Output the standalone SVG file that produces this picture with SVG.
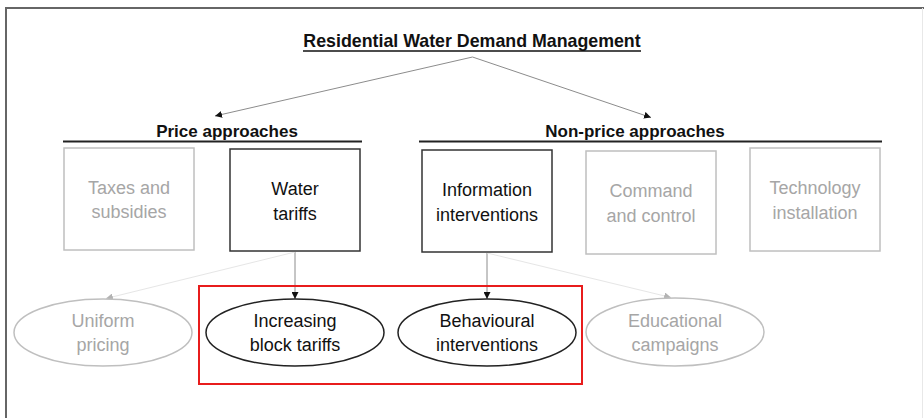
<svg xmlns="http://www.w3.org/2000/svg" width="924" height="418" viewBox="0 0 924 418">
<style>
text{font-family:"Liberation Sans",Arial,sans-serif;text-anchor:middle}
.h{font-weight:bold;font-size:17px;fill:#111}
.t{font-size:18px;fill:#111}
.g{font-size:18px;fill:#a6a6a6}
.bx{fill:#fff;stroke:#333;stroke-width:1.5}
.bg{fill:#fff;stroke:#bfbfbf;stroke-width:1.5}
.c{stroke:#8c8c8c;stroke-width:1;fill:none}
.cf{stroke:#e6e6e6;stroke-width:1;fill:none}
</style>
<defs>
<marker id="ab" viewBox="0 0 10 10" refX="10" refY="5" markerWidth="7" markerHeight="7" orient="auto" markerUnits="userSpaceOnUse"><path d="M0,0L10,5L0,10z" fill="#111"/></marker>
<marker id="ag" viewBox="0 0 10 10" refX="10" refY="5" markerWidth="7" markerHeight="7" orient="auto" markerUnits="userSpaceOnUse"><path d="M0,0L10,5L0,10z" fill="#b3b3b3"/></marker>
</defs>
<rect width="924" height="418" fill="#fff"/>
<g id="frame">
<line x1="5" y1="8" x2="924" y2="8" stroke="#666" stroke-width="2"/>
<line x1="6" y1="7" x2="6" y2="418" stroke="#666" stroke-width="2"/>
<line x1="922.5" y1="8" x2="922.5" y2="418" stroke="#e8e8e8" stroke-width="1"/>
</g>
<g id="title">
<text class="h" x="472" y="47" style="font-size:17.8px">Residential Water Demand Management</text>
<line x1="303" y1="51" x2="641" y2="51" stroke="#111" stroke-width="1.5"/>
</g>
<g id="price-heading">
<text class="h" x="227" y="137">Price approaches</text>
<line x1="63" y1="141.5" x2="362" y2="141.5" stroke="#222" stroke-width="2"/>
</g>
<g id="nonprice-heading">
<text class="h" x="635" y="137">Non-price approaches</text>
<line x1="419" y1="141.5" x2="882" y2="141.5" stroke="#222" stroke-width="2"/>
</g>
<g id="connectors">
<line class="c" x1="472.5" y1="57" x2="215" y2="116" marker-end="url(#ab)"/>
<line class="c" x1="472.5" y1="57" x2="651" y2="117.5" marker-end="url(#ab)"/>
<line class="c" x1="295" y1="252" x2="295" y2="299" marker-end="url(#ab)"/>
<line class="c" x1="487" y1="253" x2="487" y2="299" marker-end="url(#ab)"/>
<line class="cf" x1="295" y1="252" x2="106" y2="298.5" marker-end="url(#ag)"/>
<line class="cf" x1="487" y1="253" x2="671" y2="297.5" marker-end="url(#ag)"/>
</g>
<g id="taxes">
<rect class="bg" x="64" y="148" width="130" height="102"/>
<text class="g" x="129" y="194">Taxes and</text>
<text class="g" x="129" y="218">subsidies</text>
</g>
<g id="water-tariffs">
<rect class="bx" x="230" y="149" width="130" height="102"/>
<text class="t" x="295" y="195">Water</text>
<text class="t" x="295" y="220">tariffs</text>
</g>
<g id="information">
<rect class="bx" x="422" y="150" width="130" height="102"/>
<text class="t" x="487" y="196">Information</text>
<text class="t" x="487" y="221">interventions</text>
</g>
<g id="command">
<rect class="bg" x="586" y="151" width="130" height="103"/>
<text class="g" x="651" y="197">Command</text>
<text class="g" x="651" y="222">and control</text>
</g>
<g id="technology">
<rect class="bg" x="750" y="148" width="130" height="103"/>
<text class="g" x="815" y="194">Technology</text>
<text class="g" x="815" y="219">installation</text>
</g>
<g id="highlight">
<rect x="199" y="286" width="383" height="98" fill="none" stroke="#e81c1c" stroke-width="2"/>
</g>
<g id="uniform">
<ellipse cx="103" cy="332.5" rx="89" ry="33.5" fill="#fff" stroke="#bfbfbf" stroke-width="1.5"/>
<text class="g" x="103" y="327">Uniform</text>
<text class="g" x="103" y="351">pricing</text>
</g>
<g id="ibt">
<ellipse cx="295" cy="332.5" rx="89" ry="33.5" fill="#fff" stroke="#222" stroke-width="1.5"/>
<text class="t" x="295" y="327">Increasing</text>
<text class="t" x="295" y="351">block tariffs</text>
</g>
<g id="behavioural">
<ellipse cx="487" cy="332.5" rx="89" ry="33.5" fill="#fff" stroke="#222" stroke-width="1.5"/>
<text class="t" x="487" y="327">Behavioural</text>
<text class="t" x="487" y="351">interventions</text>
</g>
<g id="educational">
<ellipse cx="675" cy="332" rx="89" ry="34" fill="#fff" stroke="#bfbfbf" stroke-width="1.5"/>
<text class="g" x="675" y="327">Educational</text>
<text class="g" x="675" y="351">campaigns</text>
</g>
</svg>
